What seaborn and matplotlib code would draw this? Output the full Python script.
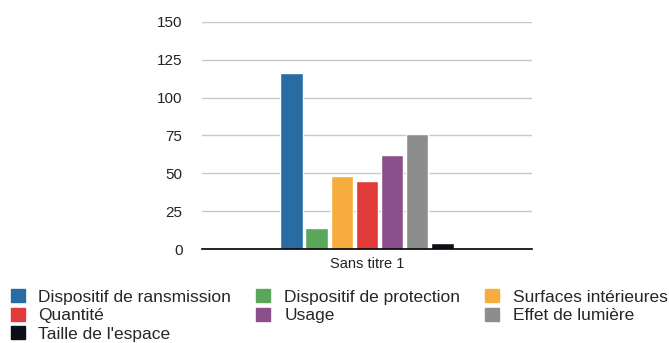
import matplotlib.pyplot as plt
import pandas as pd
import seaborn as sns

sns.set_style('white')
plt.rcParams['font.family'] = ['Liberation Sans', 'DejaVu Sans']

series = [
    'Dispositif de ransmission',
    'Dispositif de protection',
    'Surfaces intérieures',
    'Quantité',
    'Usage',
    'Effet de lumière',
    "Taille de l'espace",
]
values = [116, 14, 48, 45, 62, 76, 4]
colors = ['#286ca3', '#5aa65a', '#f6ad3d', '#e03a39', '#8b4f8c', '#8c8e8d', '#0b0f18']
category = 'Sans titre 1'

df = pd.DataFrame({'cat': [category] * len(series), 'serie': series, 'val': values})

fig = plt.figure(figsize=(6.69, 3.43), dpi=100)
ax = fig.add_axes([0.302, 0.274, 0.493, 0.662])

sns.barplot(data=df, x='cat', y='val', hue='serie', hue_order=series,
            palette=colors, width=0.82, gap=0.1, saturation=1, ax=ax, legend=False)

ax.set_xlim(-0.77, 0.77)
ax.set_ylim(0, 150)
ax.set_yticks([0, 25, 50, 75, 100, 125, 150])
ax.yaxis.grid(True, color='#c8c8c8', linewidth=1)
ax.set_axisbelow(True)
for s in ['top', 'right', 'left']:
    ax.spines[s].set_visible(False)
ax.spines['bottom'].set_color('black')
ax.spines['bottom'].set_linewidth(1.2)
ax.tick_params(axis='y', length=0, pad=14, labelsize=11, labelcolor='#222222')
ax.tick_params(axis='x', length=0, pad=6, labelsize=10.5, labelcolor='#222222')
ax.set_xlabel('')
ax.set_ylabel('')

handles = [plt.Rectangle((0, 0), 1, 1, color=c) for c in colors]
order = [0, 3, 6, 1, 4, 2, 5]
fig.legend([handles[i] for i in order], [series[i] for i in order],
           loc='upper left', bbox_to_anchor=(0.016, 0.157), ncol=3, frameon=False,
           fontsize=12.5, handlelength=0.8, handleheight=0.8, handletextpad=0.8,
           columnspacing=1.44, labelspacing=0.16, borderpad=0, borderaxespad=0)

fig.savefig('out.png', dpi=100)
